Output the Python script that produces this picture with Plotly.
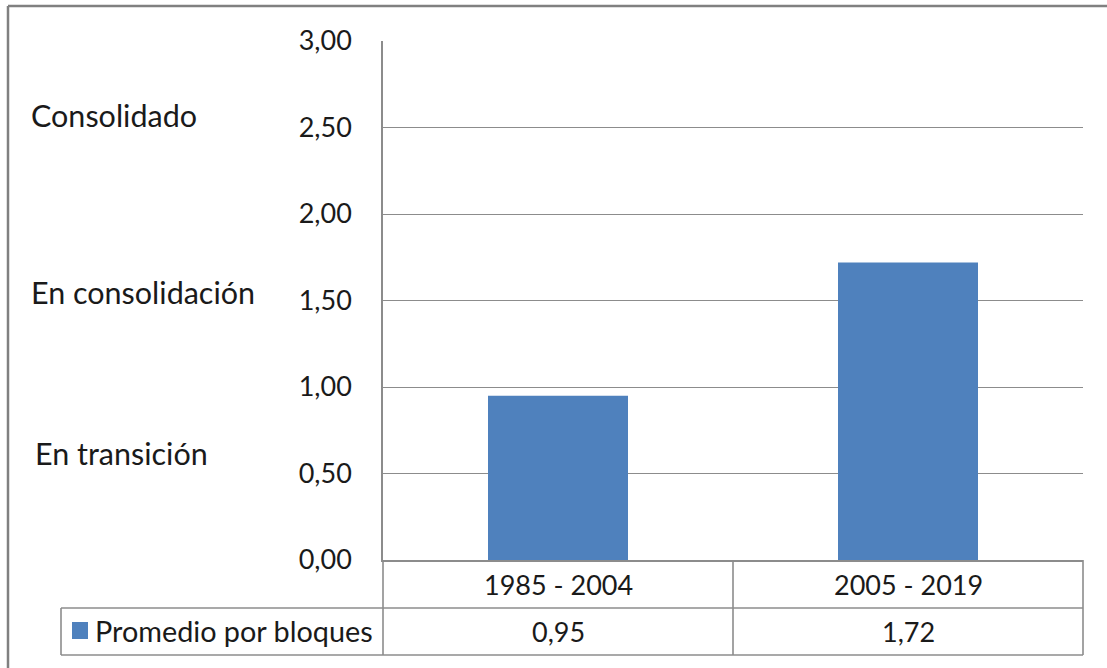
import plotly.graph_objects as go

# Data
periods = ["1985 - 2004", "2005 - 2019"]
averages = [0.95, 1.72]
series_name = "Promedio por bloques"
stage_labels = ["Consolidado", "En consolidación", "En transición"]

BAR_COLOR = "#4F81BD"
LINE_COLOR = "#8C8C8C"
TEXT_COLOR = "#1A1A1A"
FONT = "Lato"

W, H = 1107, 668
# plot area in pixels
L, R, T, B = 383, 1083, 41, 560


def px(x):
    return (x - L) / (R - L)


def py(y):
    return (B - y) / (B - T)


def fmt(v):
    return f"{v:.2f}".replace(".", ",")


fig = go.Figure()
fig.add_trace(go.Bar(
    x=periods, y=averages, width=0.4, name=series_name,
    marker=dict(color=BAR_COLOR, line=dict(width=0)),
    showlegend=False,
))

shapes = []


def line(x0, y0, x1, y1, w=1.6, color=LINE_COLOR):
    shapes.append(dict(type="line", xref="paper", yref="paper",
                       x0=px(x0), y0=py(y0), x1=px(x1), y1=py(y1),
                       line=dict(color=color, width=w), layer="above"))


# data table grid below the plot
line(61, 608, 1083, 608)
line(61, 655, 1083, 655)
line(61, 608, 61, 655)
line(383, 560, 383, 655)
line(733, 560, 733, 655)
line(1083, 560, 1083, 655)
# outer chart frame
line(8, 6, 1120, 6, w=2.5, color="#808080")
line(8, 6, 8, 680, w=2.5, color="#808080")

# legend key in the table
shapes.append(dict(type="rect", xref="paper", yref="paper",
                   x0=px(72), x1=px(88), y0=py(622), y1=py(639),
                   fillcolor=BAR_COLOR, line=dict(width=0)))

annotations = []
for p, v in zip(periods, averages):
    annotations.append(dict(x=p, xref="x", y=py(584), yref="paper",
                            text=p, showarrow=False, xanchor="center", yanchor="middle",
                            font=dict(family=FONT, size=27, color=TEXT_COLOR)))
    annotations.append(dict(x=p, xref="x", y=py(631), yref="paper",
                            text=fmt(v), showarrow=False, xanchor="center", yanchor="middle",
                            font=dict(family=FONT, size=27, color=TEXT_COLOR)))

annotations.append(dict(x=px(93), xref="paper", y=py(631), yref="paper",
                        text=series_name, showarrow=False, xanchor="left", yanchor="middle",
                        font=dict(family=FONT, size=28.8, color=TEXT_COLOR)))

stage_pos = [(29, 115), (29, 292), (33, 453)]
for lab, (xp, yp) in zip(stage_labels, stage_pos):
    annotations.append(dict(x=px(xp), xref="paper", y=py(yp), yref="paper",
                            text=lab, showarrow=False, xanchor="left", yanchor="middle",
                            font=dict(family=FONT, size=30.5, color=TEXT_COLOR)))

fig.update_layout(
    width=W, height=H,
    margin=dict(l=L, r=W - R, t=T, b=H - B, pad=0),
    paper_bgcolor="white", plot_bgcolor="white",
    separators=",.",
    shapes=shapes, annotations=annotations,
    font=dict(family=FONT, color=TEXT_COLOR),
    bargap=0.6,
)
fig.update_xaxes(
    range=[-0.5, 1.5], showticklabels=False, ticks="",
    showline=True, linecolor=LINE_COLOR, linewidth=1.6,
    showgrid=False, zeroline=False,
)
fig.update_yaxes(
    range=[0, 3], dtick=0.5, tick0=0, tickformat=".2f",
    showgrid=True, gridcolor=LINE_COLOR, gridwidth=1.4,
    showline=True, linecolor=LINE_COLOR, linewidth=1.6,
    zeroline=False, ticks="", ticklabelstandoff=24,
    tickfont=dict(family=FONT, size=27, color=TEXT_COLOR),
)

fig.write_html("out.html")
